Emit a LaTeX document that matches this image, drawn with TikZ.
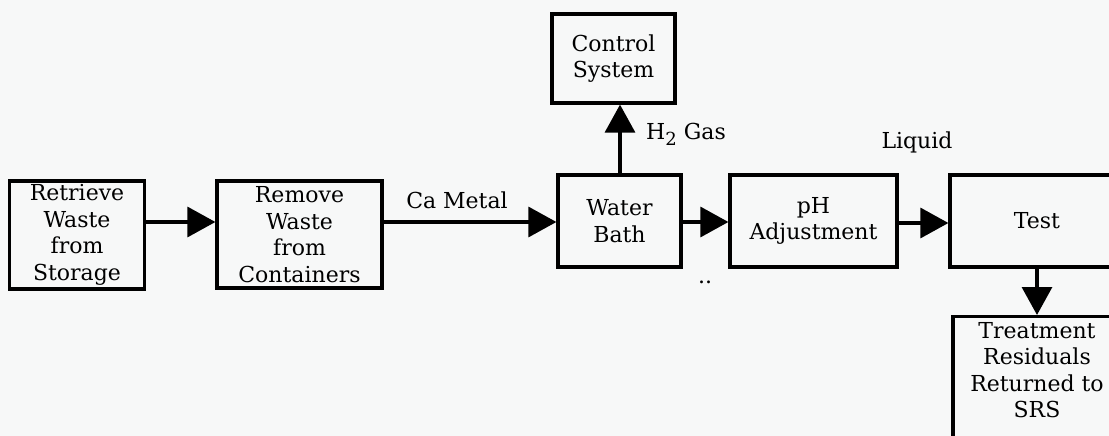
\documentclass[tikz,border=0pt]{standalone}
\usepackage{fontspec}
\setmainfont{DejaVu Serif}
\usetikzlibrary{arrows.meta}
\definecolor{bgc}{HTML}{F7F8F8}
\tikzset{
  box/.style={draw, line width=3.2pt, inner sep=0pt, align=center,
    font=\fontsize{22}{26.5}\selectfont},
  flow/.style={line width=3.2pt, -{Triangle[length=28pt,width=30pt]}},
  lbl/.style={inner sep=0pt, font=\fontsize{22}{26.5}\selectfont}
}
\begin{document}
\begin{tikzpicture}[x=1pt,y=-1pt]
\fill[bgc] (0,0) rectangle (1109,436);
\useasboundingbox (0,0) rectangle (1109,436);
\clip (0,0) rectangle (1109,436);
\node[box, minimum width=135pt, minimum height=108pt] (retrieve) at (77,235) {Retrieve\\Waste\\from\\Storage};
\node[box, minimum width=165pt, minimum height=107pt] (remove) at (299.5,234.5) {Remove\\Waste\\from\\Containers};
\node[box, minimum width=123pt, minimum height=89pt] (control) at (613.5,58.5) {Control\\System};
\node[box, minimum width=123pt, minimum height=92pt] (water) at (619.5,221) {Water\\Bath};
\node[box, minimum width=167pt, minimum height=92pt] (ph) at (813.5,221) {pH\\Adjustment};
\node[box, minimum width=174pt, minimum height=92pt] (test) at (1037,221) {Test};
\node[box, minimum width=168pt, minimum height=140pt, anchor=north] (treat) at (1037,315) {};
\node[lbl, align=center, anchor=north] (treattxt) at (1037,322) {Treatment\\Residuals\\Returned to\\SRS};
\draw[flow] (retrieve.east |- 0,222) -- (remove.west |- 0,222);
\draw[flow] (remove.east |- 0,222) -- (water.west |- 0,222);
\draw[flow] (water.east |- 0,222) -- (ph.west |- 0,222);
\draw[flow] (ph.east |- 0,223) -- (test.west |- 0,223);
\draw[flow] (water.north -| 620,0) -- (control.south -| 620,0);
\draw[flow] (test.south) -- (treat.north);
\node[lbl] (ca) at (457,200) {Ca Metal};
\node[lbl] (h2) at (686,134) {H\raisebox{-6pt}{\fontsize{18}{18}\selectfont 2} Gas};
\node[lbl] (liq) at (917,142) {Liquid};
\node[lbl] (dots) at (705,282) {..};
\end{tikzpicture}
\end{document}
